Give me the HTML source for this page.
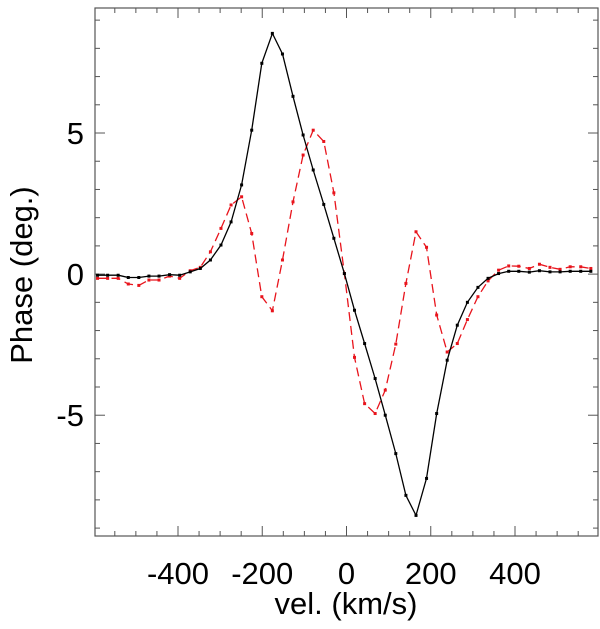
<!DOCTYPE html>
<html><head><meta charset="utf-8"><style>
html,body{margin:0;padding:0;background:#fff;}
svg text{font-family:"Liberation Sans",Arial,sans-serif;fill:#000;}
</style></head><body>
<svg id="chart" width="600" height="624" xmlns="http://www.w3.org/2000/svg">
<g id="axes"></g><g id="series"></g>
</svg>
<script>
const velocities = [-591,-567,-542,-518,-493,-469,-445,-420,-396,-371,-347,-323,-298,-274,-249,-225,-201,-176,-152,-127,-103,-79,-54,-30,-5,19,43,68,92,117,141,165,190,214,239,263,287,312,336,361,385,409,434,458,483,507,531,556,580];
const blackPhase = [-0.04,-0.04,-0.04,-0.12,-0.12,-0.07,-0.07,-0.02,-0.04,0.08,0.2,0.5,1.03,1.85,3.16,5.1,7.47,8.53,7.8,6.3,4.93,3.69,2.47,1.27,0.02,-1.28,-2.46,-3.7,-5.0,-6.36,-7.84,-8.55,-7.24,-4.94,-3.05,-1.81,-1.0,-0.47,-0.15,0.02,0.1,0.1,0.07,0.12,0.08,0.08,0.1,0.1,0.1];
const redPhase = [-0.15,-0.15,-0.15,-0.35,-0.4,-0.21,-0.21,-0.07,-0.15,0.12,0.24,0.79,1.62,2.45,2.74,1.44,-0.8,-1.3,0.5,2.56,4.22,5.1,4.7,2.88,0.02,-2.95,-4.59,-4.94,-4.11,-2.48,-0.33,1.5,0.95,-1.45,-2.76,-2.46,-1.61,-0.8,-0.24,0.14,0.29,0.28,0.2,0.35,0.24,0.17,0.26,0.26,0.2];
const xTickLabels = [-400,-200,0,200,400];
const yTickLabels = [-5,0,5];

const L=95,R=598,T=8,B=536;
const xMin=-597,xMax=597,yMin=-9.28,yMax=9.43;
const xs=v=>L+(v-xMin)/(xMax-xMin)*(R-L);
const ys=v=>B-(v-yMin)/(yMax-yMin)*(B-T);
const NS="http://www.w3.org/2000/svg";
function mk(tag,attrs,parent){const e=document.createElementNS(NS,tag);for(const k in attrs)e.setAttribute(k,attrs[k]);parent.appendChild(e);return e;}
const axes=document.getElementById('axes'),series=document.getElementById('series');

const frame=mk('rect',{x:L,y:T,width:R-L,height:B-T,fill:'none',stroke:'#555','stroke-width':1.2},axes);



for(let v=-550;v<=550;v+=50){
  const major=v%200===0;const len=major?10:5;const x=xs(v);
  const t1=mk('line',{x1:x,x2:x,y1:B,y2:B-len,stroke:'#555','stroke-width':1},axes);
  
  
  const t2=mk('line',{x1:x,x2:x,y1:T,y2:T+len,stroke:'#555','stroke-width':1},axes);
  
  
}
for(let v=-9;v<=9;v+=1){
  const major=v%5===0;const len=major?10:5;const y=ys(v);
  const t1=mk('line',{x1:L,x2:L+len,y1:y,y2:y,stroke:'#555','stroke-width':1},axes);
  
  
  const t2=mk('line',{x1:R,x2:R-len,y1:y,y2:y,stroke:'#555','stroke-width':1},axes);
  
  
}
xTickLabels.forEach(v=>{
  const t=mk('text',{x:xs(v),y:584,'text-anchor':'middle','font-size':31},axes);t.textContent=v;
  
  
});
yTickLabels.forEach(v=>{
  const t=mk('text',{x:84,y:ys(v)+11,'text-anchor':'end','font-size':31},axes);t.textContent=v;
  
  
});
const xt=mk('text',{x:346,y:614,'text-anchor':'middle','font-size':31},axes);xt.textContent='vel. (km/s)';


const yt=mk('text',{x:0,y:0,'text-anchor':'middle','font-size':31,transform:'translate(32,275) rotate(-90)'},axes);yt.textContent='Phase (deg.)';



function drawSeries(vals,color,dash,name){
  const pts=velocities.map((v,i)=>xs(v).toFixed(1)+','+ys(vals[i]).toFixed(1)).join(' ');
  const pl=mk('polyline',{points:pts,fill:'none',stroke:color,'stroke-width':1.3},series);
  if(dash)pl.setAttribute('stroke-dasharray',dash);
  
  
  velocities.forEach((v,i)=>{
    const m=mk('rect',{x:xs(v)-1.5,y:ys(vals[i])-1.5,width:3,height:3,fill:color},series);
    
    
  });
}
drawSeries(redPhase,'#e8141c','9,5','red-series');
drawSeries(blackPhase,'#000','', 'black-series');
</script>
</body></html>
